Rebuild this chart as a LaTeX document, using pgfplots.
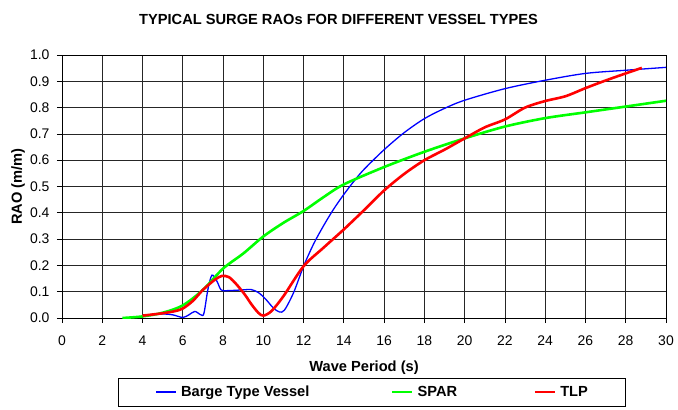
\documentclass[border=0pt]{standalone}
\usepackage{pgfplots}
\pgfplotsset{compat=1.18}
\usepackage{fontspec}
\setmainfont{Liberation Sans}

\pgfplotstableread{
T R
4 0.010
5 0.015
5.5 0.012
6 0.002
6.3 0.012
6.6 0.025
6.9 0.012
7.05 0.018
7.25 0.110
7.45 0.163
7.7 0.139
7.9 0.107
8.2 0.104
9.0 0.107
9.4 0.108
9.75 0.097
10.1 0.073
10.5 0.038
10.8 0.023
11.05 0.030
11.5 0.096
12 0.197
12.5 0.282
13 0.352
13.5 0.415
14 0.470
14.5 0.520
15 0.565
16 0.640
17 0.705
18 0.758
19 0.797
20 0.828
22 0.872
24 0.904
26 0.930
28 0.942
30 0.953
}\barge

\pgfplotstableread{
T R
3 0.000
4 0.006
5 0.020
6 0.048
7 0.107
8 0.188
9 0.245
10 0.310
11 0.362
12 0.407
13 0.460
14 0.508
16 0.574
18 0.632
20 0.683
22 0.728
24 0.760
26 0.782
28 0.804
30 0.826
}\spar

\pgfplotstableread{
T R
4 0.009
5 0.018
5.6 0.026
6 0.036
6.5 0.065
7 0.107
7.6 0.146
7.95 0.160
8.3 0.155
8.7 0.125
9.1 0.087
9.4 0.053
9.75 0.020
10 0.009
10.4 0.026
11 0.083
12 0.197
13 0.268
14 0.337
15 0.410
16 0.485
17 0.548
18 0.600
19 0.640
20 0.683
21 0.725
22 0.755
23 0.800
24 0.825
25 0.843
26 0.874
27 0.903
28 0.930
28.8 0.951
}\tlp

\begin{document}
\begin{tikzpicture}
\begin{axis}[
  at={(0,0)}, anchor=south west,
  scale only axis, width=604bp, height=263bp,
  xmin=0, xmax=30, ymin=0, ymax=1,
  xtick={0,2,4,6,8,10,12,14,16,18,20,22,24,26,28,30},
  ytick={0,0.1,0.2,0.3,0.4,0.5,0.6,0.7,0.8,0.9,1},
  yticklabel style={xshift=-4bp, /pgf/number format/.cd, fixed, fixed zerofill, precision=1},
  /pgf/number format/assume math mode=true,
  ticklabel style={font=\fontsize{14}{16}\selectfont},
  xtick pos=bottom, ytick pos=left,
  tick align=outside, major tick length=5bp,
  tick style={black, line width=0.75bp},
  grid=major, grid style={black!85, line width=0.75bp},
  axis line style={black, line width=0.75bp},
  xticklabel style={yshift=-9bp},
  xlabel={\textbf{Wave Period (s)}},
  ylabel={\textbf{RAO (m/m)}},
  label style={font=\fontsize{14.7}{16}\selectfont},
  xlabel style={at={(axis description cs:0.5,-0.188)}, anchor=center},
  ylabel style={at={(axis description cs:-0.0728,0.5)}, anchor=center},
  legend columns=3,
  legend style={at={(0.513,-0.2814)}, anchor=center, draw=black, line width=0.75bp,
    font=\fontsize{14.7}{16}\selectfont\bfseries, inner xsep=37bp, inner ysep=8bp,
    nodes={inner sep=0pt},
    /tikz/every odd column/.style={column sep=4bp}},
  legend image code/.code={\draw[#1] (0bp,0bp) -- (20bp,0bp);},
]
\addplot[blue, line width=1.3bp, smooth] table[x=T,y=R] {\barge};
\addlegendentry{\makebox[210bp][l]{Barge Type Vessel}}
\addplot[green, line width=2.6bp, smooth] table[x=T,y=R] {\spar};
\addlegendentry{\makebox[116bp][l]{SPAR}}
\addplot[red, line width=2.6bp, smooth] table[x=T,y=R] {\tlp};
\addlegendentry{TLP}
\end{axis}
\node[font=\fontsize{14.7}{16}\selectfont\bfseries] at (276.5bp,299bp) {TYPICAL SURGE RAOs FOR DIFFERENT VESSEL TYPES};
\pgfresetboundingbox
\path (-62bp,-92bp) rectangle (616bp,318bp);
\end{tikzpicture}
\end{document}
